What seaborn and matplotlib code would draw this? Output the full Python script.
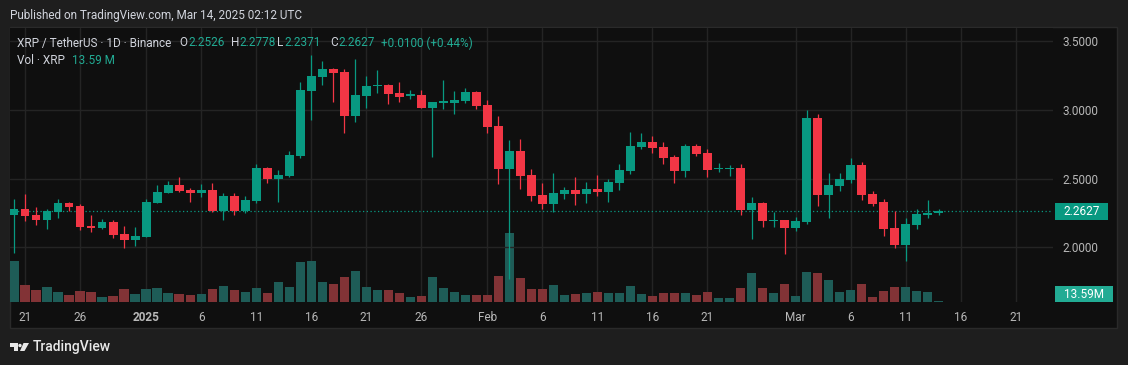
import numpy as np
import pandas as pd
import matplotlib
matplotlib.use("Agg")
import matplotlib.pyplot as plt
import seaborn as sns
from matplotlib.patches import Rectangle, Ellipse, Polygon

# daily XRP/USDT candles, Dec 20 2024 .. Mar 14 2025
dates = pd.date_range("2024-12-20", "2025-03-14", freq="D")

opens = [2.238, 2.279, 2.235, 2.201, 2.260, 2.320, 2.301, 2.155, 2.143, 2.185, 2.097, 2.056,
         2.078, 2.325, 2.398, 2.454, 2.417, 2.398, 2.417, 2.265, 2.374, 2.265, 2.337, 2.577,
         2.500, 2.521, 2.667, 3.139, 3.241, 3.297, 3.275, 2.957, 3.103, 3.175, 3.180, 3.122,
         3.103, 3.108, 3.016, 3.052, 3.052, 3.066, 3.129,
         3.035, 2.882, 2.572, 2.700, 2.526, 2.381, 2.318, 2.390, 2.420, 2.390, 2.424, 2.405,
         2.470, 2.558, 2.732, 2.766, 2.730, 2.657, 2.558, 2.737, 2.686, 2.572, 2.572, 2.577,
         2.274, 2.323, 2.194, 2.199,
         2.143, 2.187, 2.940, 2.381, 2.449, 2.492, 2.599, 2.388, 2.330, 2.141, 2.020, 2.165,
         2.238, 2.2526]
highs = [2.352, 2.388, 2.294, 2.279, 2.352, 2.330, 2.315, 2.235, 2.206, 2.199, 2.156, 2.148,
         2.352, 2.454, 2.483, 2.512, 2.434, 2.461, 2.468, 2.393, 2.393, 2.374, 2.606, 2.584,
         2.563, 2.701, 3.202, 3.398, 3.355, 3.304, 3.297, 3.369, 3.246, 3.289, 3.190, 3.202,
         3.144, 3.144, 3.057, 3.216, 3.137, 3.158, 3.137,
         3.071, 2.955, 2.781, 2.788, 2.570, 2.468, 2.541, 2.442, 2.512, 2.475, 2.526, 2.497,
         2.606, 2.839, 2.831, 2.810, 2.766, 2.672, 2.751, 2.751, 2.715, 2.613, 2.599, 2.606,
         2.366, 2.330, 2.257, 2.199,
         2.221, 2.999, 2.970, 2.541, 2.541, 2.650, 2.621, 2.410, 2.352, 2.262, 2.214, 2.279,
         2.345, 2.2778]
lows = [1.962, 2.194, 2.165, 2.134, 2.216, 2.267, 2.127, 2.114, 2.134, 2.071, 1.998, 2.013,
        2.076, 2.320, 2.393, 2.405, 2.332, 2.369, 2.260, 2.202, 2.238, 2.252, 2.325, 2.471,
        2.332, 2.514, 2.652, 2.928, 3.183, 3.059, 2.834, 2.914, 3.016, 3.124, 3.045, 3.059,
        3.081, 3.013, 2.659, 3.008, 2.972, 3.052, 3.008,
        2.834, 2.463, 1.773, 2.427, 2.340, 2.279, 2.260, 2.354, 2.311, 2.325, 2.376, 2.332,
        2.420, 2.536, 2.718, 2.688, 2.609, 2.470, 2.514, 2.667, 2.514, 2.550, 2.521, 2.238,
        2.061, 2.151, 2.151, 1.954,
        2.122, 2.172, 2.303, 2.216, 2.412, 2.470, 2.347, 2.303, 2.085, 1.998, 1.904, 2.136,
        2.216, 2.2371]
closes = [2.279, 2.231, 2.201, 2.262, 2.320, 2.296, 2.151, 2.143, 2.185, 2.093, 2.056, 2.083,
          2.330, 2.403, 2.454, 2.412, 2.398, 2.417, 2.265, 2.374, 2.265, 2.345, 2.577, 2.500,
          2.526, 2.669, 3.144, 3.246, 3.297, 3.270, 2.957, 3.108, 3.173, 3.180, 3.117, 3.095,
          3.110, 3.016, 3.057, 3.059, 3.071, 3.129, 3.030,
          2.878, 2.572, 2.700, 2.521, 2.376, 2.318, 2.395, 2.420, 2.390, 2.424, 2.405, 2.475,
          2.563, 2.737, 2.766, 2.725, 2.652, 2.558, 2.737, 2.681, 2.565, 2.577, 2.577, 2.274,
          2.323, 2.194, 2.199, 2.143,
          2.192, 2.940, 2.381, 2.454, 2.497, 2.599, 2.381, 2.318, 2.136, 2.020, 2.170, 2.243,
          2.250, 2.2627]
# volume in millions of XRP
volumes = [820, 340, 240, 300, 200, 140, 220, 200, 100, 120, 260, 160,
           260, 280, 180, 160, 140, 160, 260, 320, 240, 200, 280, 180,
           400, 300, 800, 820, 400, 360, 500, 620, 300, 240, 240, 180,
           100, 120, 500, 280, 200, 140, 140,
           140, 520, 1380, 480, 260, 260, 340, 140, 160, 180, 200, 180,
           180, 320, 160, 120, 180, 180, 180, 140, 200, 80, 80, 280,
           580, 280, 180, 360, 120,
           600, 580, 440, 200, 240, 360, 100, 220, 300, 300, 220, 200, 13.59]

tick_dates = ["2024-12-21", "2024-12-26", "2025-01-01", "2025-01-06", "2025-01-11", "2025-01-16",
              "2025-01-21", "2025-01-26", "2025-02-01", "2025-02-06", "2025-02-11", "2025-02-16",
              "2025-02-21", "2025-03-01", "2025-03-06", "2025-03-11", "2025-03-16", "2025-03-21"]
tick_labels = ["21", "26", "2025", "6", "11", "16", "21", "26", "Feb", "6", "11", "16",
               "21", "Mar", "6", "11", "16", "21"]
price_ticks = [2.0, 2.5, 3.0, 3.5]
last_price = 2.2627

UP, DOWN = "#089981", "#f23645"
UP_VOL, DOWN_VOL = "#1e5c57", "#823336"
TXT = "#d1d4dc"
FS = 8.5

df = pd.DataFrame({"date": dates, "open": opens, "high": highs, "low": lows,
                   "close": closes, "vol": volumes})
df["day"] = (df["date"] - dates[0]).dt.days
df["dir"] = np.where(df["close"] >= df["open"], "up", "down")

sns.set_theme(style="dark")
plt.rcParams["font.family"] = ["Roboto", "DejaVu Sans"]

W, H = 1128, 365
fig = plt.figure(figsize=(W / 100, H / 100), dpi=100, facecolor="#1e1e1e")


def fx(x):
    return x / W


def fy(y):
    return 1 - y / H


fig.patches.append(Rectangle((fx(10), fy(328)), fx(1117) - fx(10), fy(27) - fy(328),
                             transform=fig.transFigure, facecolor="#0f0f0f",
                             edgecolor="#2a2a2a", lw=1, zorder=-5))

rect = [fx(10), fy(302), fx(1053) - fx(10), fy(28) - fy(302)]
axv = fig.add_axes(rect)
ax = fig.add_axes(rect, sharex=axv)
ax.patch.set_visible(False)
axv.set_facecolor("#0f0f0f")

# volume
sns.barplot(data=df, x="day", y="vol", hue="dir", palette={"up": UP_VOL, "down": DOWN_VOL},
            native_scale=True, saturation=1, width=0.88, dodge=False, legend=False,
            errorbar=None, linewidth=0, ax=axv)
axv.set_ylim(0, 5480)
axv.set_xlabel("")
axv.set_ylabel("")
axv.set_yticks([])
axv.set_axisbelow(True)
axv.grid(axis="x", color="#242424", lw=1)
axv.grid(axis="y", visible=False)

# candles
cols = np.where(df["dir"] == "up", UP, DOWN)
ax.vlines(df["day"], df["low"], df["high"], colors=cols, lw=0.9, zorder=3)
body_lo = np.minimum(df["open"], df["close"])
body_h = np.maximum((df["close"] - df["open"]).abs(), 0.008)
ax.bar(df["day"], body_h, bottom=body_lo, width=0.76, color=cols, linewidth=0, zorder=4)
ax.axhline(last_price, color=UP, lw=0.9, ls=(0, (1, 2)), zorder=2)

ax.set_ylim(1.603, 3.594)
ax.set_yticks(price_ticks)
ax.set_yticklabels([f"{p:.4f}" for p in price_ticks])
ax.yaxis.tick_right()
ax.tick_params(axis="y", length=0, pad=7, labelsize=FS, labelcolor="#b8b8b8")
ax.tick_params(axis="x", bottom=False, labelbottom=False)
ax.grid(axis="y", color="#242424", lw=1)
ax.grid(axis="x", visible=False)

tick_pos = [(pd.Timestamp(d) - dates[0]).days for d in tick_dates]
axv.set_xticks(tick_pos)
axv.set_xticklabels(tick_labels)
axv.tick_params(axis="x", length=0, pad=6.5, labelsize=FS, labelcolor="#b8b8b8")
axv.get_xticklabels()[2].set_fontweight("bold")
axv.set_xlim(-0.39, 94.4)

for a in (ax, axv):
    for s in a.spines.values():
        s.set_visible(False)

# header and legend
fig.text(fx(10), fy(15), "Published on TradingView.com, Mar 14, 2025 02:12 UTC",
         color=TXT, fontsize=FS, va="center")
legend = [(17, "XRP / TetherUS · 1D · Binance", TXT), (179, "O", TXT), (188, "2.2526", "#22ab94"),
          (231, "H", TXT), (239, "2.2778", "#22ab94"), (277, "L", TXT), (284, "2.2371", "#22ab94"),
          (330, "C", TXT), (338, "2.2627", "#22ab94"), (381, "+0.0100 (+0.44%)", "#22ab94")]
for x, s, c in legend:
    fig.text(fx(x), fy(43), s, color=c, fontsize=FS, va="center")
fig.text(fx(17), fy(60), "Vol · XRP", color=TXT, fontsize=FS, va="center")
fig.text(fx(72), fy(60), "13.59 M", color="#22ab94", fontsize=FS, va="center")

# price scale labels
fig.patches.append(Rectangle((fx(1055), fy(220)), fx(53), 17 / H, transform=fig.transFigure,
                             facecolor=UP, edgecolor="none"))
fig.text(fx(1081.5), fy(211.5), "2.2627", color="white", fontsize=FS, ha="center", va="center")
fig.patches.append(Rectangle((fx(1055), fy(302)), fx(58), 16 / H, transform=fig.transFigure,
                             facecolor="#22ab94", edgecolor="none"))
fig.text(fx(1084), fy(294), "13.59M", color="white", fontsize=FS, ha="center", va="center")

# footer logo + wordmark
logo = "#e8e8e8"
fig.patches.append(Rectangle((fx(10), fy(347)), fx(7.5), 4 / H, transform=fig.transFigure,
                             facecolor=logo, edgecolor="none"))
fig.patches.append(Rectangle((fx(13.5), fy(351)), fx(4), 8 / H, transform=fig.transFigure,
                             facecolor=logo, edgecolor="none"))
fig.patches.append(Ellipse((fx(20), fy(345.5)), fx(3.4), 3.4 / H, transform=fig.transFigure,
                           facecolor=logo, edgecolor="none"))
fig.patches.append(Polygon([(fx(23.5), fy(343)), (fx(29), fy(343)), (fx(24.5), fy(351)),
                            (fx(20), fy(351))], closed=True, transform=fig.transFigure,
                           facecolor=logo, edgecolor="none"))
fig.text(fx(32.5), fy(347.5), "TradingView", color=logo, fontsize=10, fontweight="medium",
         va="center")

fig.savefig("out.png", dpi=100, facecolor=fig.get_facecolor())
